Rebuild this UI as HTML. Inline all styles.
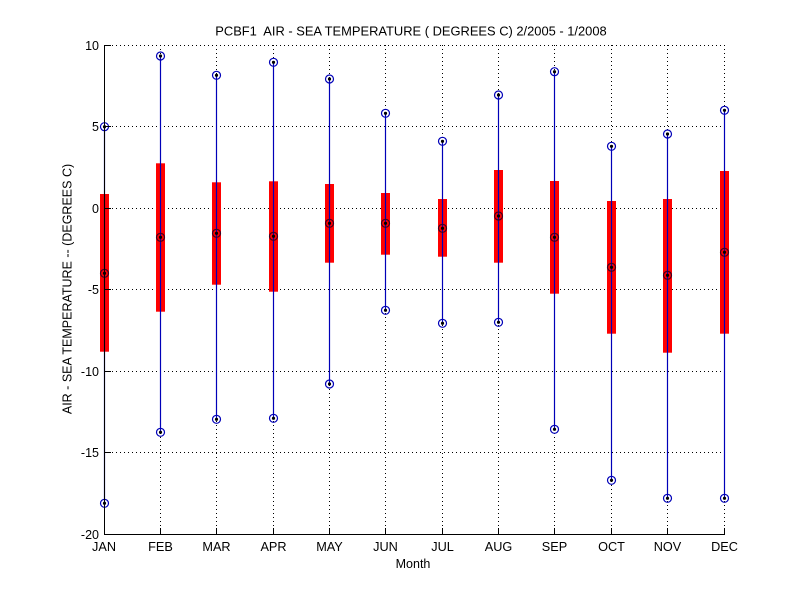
<!DOCTYPE html>
<html>
<head>
<meta charset="utf-8">
<style>
html,body{margin:0;padding:0;background:#fff;}
svg{display:block;}
text{font-family:"Liberation Sans",Arial,sans-serif;fill:#000;}
</style>
</head>
<body>
<svg width="800" height="600" viewBox="0 0 800 600" xmlns="http://www.w3.org/2000/svg">
<rect x="0" y="0" width="800" height="600" fill="#fff"/>
<!-- horizontal grid -->
<g stroke="#000" stroke-width="1" stroke-dasharray="1 3" fill="none">
<line x1="104" y1="45.5" x2="725" y2="45.5"/>
<line x1="104" y1="126.5" x2="725" y2="126.5"/>
<line x1="104" y1="208.5" x2="725" y2="208.5"/>
<line x1="104" y1="289.5" x2="725" y2="289.5"/>
<line x1="104" y1="371.5" x2="725" y2="371.5"/>
<line x1="104" y1="452.5" x2="725" y2="452.5"/>
<!-- vertical grid -->
<line x1="160.5" y1="45" x2="160.5" y2="534"/>
<line x1="216.5" y1="45" x2="216.5" y2="534"/>
<line x1="273.5" y1="45" x2="273.5" y2="534"/>
<line x1="329.5" y1="45" x2="329.5" y2="534"/>
<line x1="385.5" y1="45" x2="385.5" y2="534"/>
<line x1="442.5" y1="45" x2="442.5" y2="534"/>
<line x1="498.5" y1="45" x2="498.5" y2="534"/>
<line x1="554.5" y1="45" x2="554.5" y2="534"/>
<line x1="611.5" y1="45" x2="611.5" y2="534"/>
<line x1="667.5" y1="45" x2="667.5" y2="534"/>
<line x1="724.5" y1="45" x2="724.5" y2="534"/>
</g>

<!-- boxes -->
<g fill="#ff0000">
<rect x="100" y="194" width="9" height="157.7"/>
<rect x="156" y="163.3" width="9" height="148.4"/>
<rect x="212" y="182.3" width="9" height="102.4"/>
<rect x="269" y="181.3" width="9" height="110.4"/>
<rect x="325" y="184" width="9" height="78.7"/>
<rect x="381" y="193" width="9" height="61.7"/>
<rect x="438" y="199" width="9" height="57.7"/>
<rect x="494" y="170" width="9" height="92.7"/>
<rect x="550" y="181" width="9" height="112.7"/>
<rect x="607" y="201" width="9" height="132.7"/>
<rect x="663" y="199" width="9" height="153.7"/>
<rect x="720" y="171" width="9" height="162.7"/>
</g>

<!-- whiskers -->
<g stroke="#0000b8" stroke-width="1.2">
<line x1="104.5" y1="126.7" x2="104.5" y2="503.3"/>
<line x1="160.5" y1="56" x2="160.5" y2="432.3"/>
<line x1="216.5" y1="75.3" x2="216.5" y2="419.3"/>
<line x1="273.5" y1="62.3" x2="273.5" y2="418.3"/>
<line x1="329.5" y1="79" x2="329.5" y2="384"/>
<line x1="385.5" y1="113.3" x2="385.5" y2="310.3"/>
<line x1="442.5" y1="141.3" x2="442.5" y2="323.3"/>
<line x1="498.5" y1="95" x2="498.5" y2="322.3"/>
<line x1="554.5" y1="71.7" x2="554.5" y2="429.3"/>
<line x1="611.5" y1="146.3" x2="611.5" y2="480.3"/>
<line x1="667.5" y1="134" x2="667.5" y2="498.3"/>
<line x1="724.5" y1="110.3" x2="724.5" y2="498.3"/>
</g>

<!-- markers -->
<defs>
<g id="mk">
<circle cx="0" cy="0" r="4" fill="none" stroke="#0000b8" stroke-width="1.2"/>
<circle cx="0" cy="0" r="1.6" fill="#000"/>
</g>
<g id="mkm">
<circle cx="0" cy="0" r="4" fill="none" stroke="#400020" stroke-width="1.2"/>
<circle cx="0" cy="0" r="1.6" fill="#000"/>
</g>
</defs>
<g>
<use href="#mk" x="104.5" y="126.7"/><use href="#mk" x="104.5" y="503.3"/><use href="#mkm" x="104.5" y="273.3"/>
<use href="#mk" x="160.5" y="56"/><use href="#mk" x="160.5" y="432.3"/><use href="#mkm" x="160.5" y="237.3"/>
<use href="#mk" x="216.5" y="75.3"/><use href="#mk" x="216.5" y="419.3"/><use href="#mkm" x="216.5" y="233.3"/>
<use href="#mk" x="273.5" y="62.3"/><use href="#mk" x="273.5" y="418.3"/><use href="#mkm" x="273.5" y="236.3"/>
<use href="#mk" x="329.5" y="79"/><use href="#mk" x="329.5" y="384"/><use href="#mkm" x="329.5" y="223.3"/>
<use href="#mk" x="385.5" y="113.3"/><use href="#mk" x="385.5" y="310.3"/><use href="#mkm" x="385.5" y="223.3"/>
<use href="#mk" x="442.5" y="141.3"/><use href="#mk" x="442.5" y="323.3"/><use href="#mkm" x="442.5" y="228.3"/>
<use href="#mk" x="498.5" y="95"/><use href="#mk" x="498.5" y="322.3"/><use href="#mkm" x="498.5" y="216"/>
<use href="#mk" x="554.5" y="71.7"/><use href="#mk" x="554.5" y="429.3"/><use href="#mkm" x="554.5" y="237.3"/>
<use href="#mk" x="611.5" y="146.3"/><use href="#mk" x="611.5" y="480.3"/><use href="#mkm" x="611.5" y="267.3"/>
<use href="#mk" x="667.5" y="134"/><use href="#mk" x="667.5" y="498.3"/><use href="#mkm" x="667.5" y="275.3"/>
<use href="#mk" x="724.5" y="110.3"/><use href="#mk" x="724.5" y="498.3"/><use href="#mkm" x="724.5" y="252.3"/>
</g>

<!-- axes -->
<g stroke="#000" stroke-width="1" fill="none">
<line x1="104.5" y1="45" x2="104.5" y2="535"/>
<line x1="104" y1="534.5" x2="725" y2="534.5"/>
<!-- y ticks -->
<line x1="104" y1="45.5" x2="111" y2="45.5"/>
<line x1="104" y1="126.5" x2="111" y2="126.5"/>
<line x1="104" y1="208.5" x2="111" y2="208.5"/>
<line x1="104" y1="289.5" x2="111" y2="289.5"/>
<line x1="104" y1="371.5" x2="111" y2="371.5"/>
<line x1="104" y1="452.5" x2="111" y2="452.5"/>
<!-- x ticks -->
<line x1="160.5" y1="534" x2="160.5" y2="528"/>
<line x1="216.5" y1="534" x2="216.5" y2="528"/>
<line x1="273.5" y1="534" x2="273.5" y2="528"/>
<line x1="329.5" y1="534" x2="329.5" y2="528"/>
<line x1="385.5" y1="534" x2="385.5" y2="528"/>
<line x1="442.5" y1="534" x2="442.5" y2="528"/>
<line x1="498.5" y1="534" x2="498.5" y2="528"/>
<line x1="554.5" y1="534" x2="554.5" y2="528"/>
<line x1="611.5" y1="534" x2="611.5" y2="528"/>
<line x1="667.5" y1="534" x2="667.5" y2="528"/>
<line x1="724.5" y1="534" x2="724.5" y2="528"/>
</g>

<!-- y tick labels -->
<g font-size="12.5" text-anchor="end">
<text x="99" y="50">10</text>
<text x="99" y="131">5</text>
<text x="99" y="213">0</text>
<text x="99" y="294">-5</text>
<text x="99" y="376">-10</text>
<text x="99" y="457">-15</text>
<text x="99" y="539">-20</text>
</g>
<!-- x tick labels -->
<g font-size="12.7" text-anchor="middle">
<text x="104" y="551">JAN</text>
<text x="160.5" y="551">FEB</text>
<text x="216.5" y="551">MAR</text>
<text x="273.5" y="551">APR</text>
<text x="329.5" y="551">MAY</text>
<text x="385.5" y="551">JUN</text>
<text x="442.5" y="551">JUL</text>
<text x="498.5" y="551">AUG</text>
<text x="554.5" y="551">SEP</text>
<text x="611.5" y="551">OCT</text>
<text x="667.5" y="551">NOV</text>
<text x="724.5" y="551">DEC</text>
</g>
<text x="413" y="568" font-size="12.5" text-anchor="middle">Month</text>
<text x="411" y="35.5" font-size="12.9" text-anchor="middle" xml:space="preserve">PCBF1  AIR - SEA TEMPERATURE ( DEGREES C) 2/2005 - 1/2008</text>
<text transform="translate(71.5,289) rotate(-90)" font-size="12.5" text-anchor="middle">AIR - SEA TEMPERATURE -- (DEGREES C)</text>
</svg>
</body>
</html>
